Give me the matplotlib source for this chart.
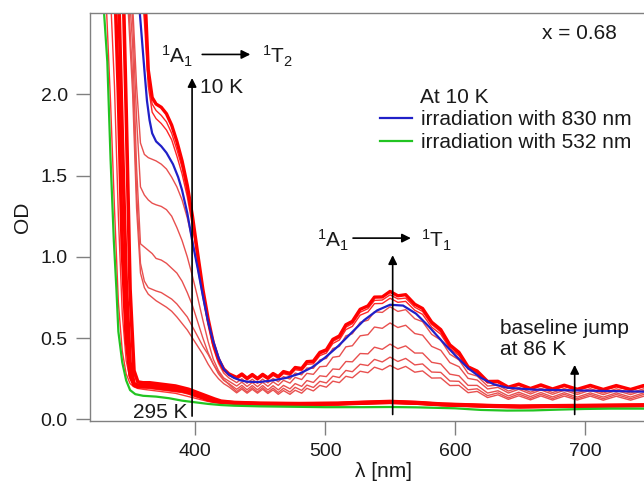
import matplotlib
matplotlib.use('Agg')
import matplotlib.pyplot as plt

plt.rcParams['font.family'] = 'Liberation Sans'
plt.rcParams['mathtext.fontset'] = 'custom'
plt.rcParams['mathtext.rm'] = 'Liberation Sans'
plt.rcParams['mathtext.it'] = 'Liberation Sans:italic'
plt.rcParams['mathtext.bf'] = 'Liberation Sans:bold'
plt.rcParams['mathtext.default'] = 'regular'

# ---- wavelength grids (nm) ----
# UV edge / 1A1->1T2 shoulder part and the visible part (fringe maxima/minima)
wl_uv = [340, 344, 348, 352, 355, 358, 361, 364, 367, 370, 374, 378, 382, 386,
         390, 394, 398, 402, 406, 410, 414, 418, 422, 426]
wl_vis = [432, 436, 440, 444, 448, 452, 456, 460, 464, 468, 473, 477, 482, 486,
          491, 496, 501, 506, 511, 516, 521, 527, 533, 538, 544, 550, 556, 562,
          569, 575, 582, 589, 596, 603, 610, 617, 625, 633, 641, 649, 658, 666,
          675, 684, 694, 704, 714, 724, 735, 745, 750]
wl_red = wl_uv + wl_vis

# low temperature spectra (high-spin fraction small)
od_10K = [3.0, 3.0, 3.0, 3.0, 3.0, 2.95, 2.70, 2.15, 1.98, 1.94, 1.92, 1.88, 1.81, 1.71,
          1.59, 1.44, 1.25, 1.02, 0.80, 0.62, 0.47, 0.37, 0.31, 0.28,
          0.258, 0.279, 0.253, 0.276, 0.252, 0.277, 0.255, 0.282, 0.263, 0.294, 0.283,
          0.319, 0.313, 0.355, 0.358, 0.412, 0.428, 0.492, 0.513, 0.582, 0.603, 0.677,
          0.698, 0.752, 0.753, 0.787, 0.760, 0.767, 0.708, 0.682, 0.598, 0.552, 0.458,
          0.412, 0.323, 0.297, 0.233, 0.234, 0.198, 0.217, 0.190, 0.212, 0.187, 0.210,
          0.185, 0.209, 0.184, 0.208, 0.184, 0.208, 0.196]
od_lowT_2 = [3.0, 3.0, 3.0, 3.0, 3.0, 2.85, 2.55, 2.10, 1.94, 1.90, 1.87, 1.83, 1.76, 1.66,
             1.55, 1.40, 1.22, 1.00, 0.79, 0.61, 0.46, 0.365, 0.305, 0.275,
             0.254, 0.273, 0.249, 0.270, 0.248, 0.271, 0.251, 0.276, 0.259, 0.288, 0.278,
             0.312, 0.307, 0.347, 0.351, 0.402, 0.419, 0.480, 0.501, 0.567, 0.589, 0.659,
             0.681, 0.732, 0.734, 0.766, 0.741, 0.746, 0.690, 0.664, 0.584, 0.538, 0.448,
             0.402, 0.317, 0.290, 0.230, 0.229, 0.196, 0.213, 0.188, 0.208, 0.185, 0.206,
             0.183, 0.205, 0.182, 0.204, 0.182, 0.204, 0.193]
od_lowT_3 = [3.0, 3.0, 3.0, 3.0, 2.95, 2.75, 2.45, 2.05, 1.89, 1.85, 1.82, 1.78, 1.72, 1.62,
             1.51, 1.37, 1.19, 0.98, 0.78, 0.60, 0.455, 0.36, 0.30, 0.27,
             0.248, 0.267, 0.243, 0.264, 0.242, 0.265, 0.245, 0.270, 0.253, 0.281, 0.271,
             0.305, 0.300, 0.338, 0.342, 0.392, 0.408, 0.467, 0.488, 0.552, 0.572, 0.641,
             0.661, 0.712, 0.713, 0.745, 0.720, 0.726, 0.671, 0.646, 0.567, 0.524, 0.436,
             0.392, 0.309, 0.284, 0.224, 0.225, 0.191, 0.209, 0.184, 0.204, 0.181, 0.202,
             0.179, 0.201, 0.178, 0.200, 0.178, 0.200, 0.189]

# intermediate temperatures (during the transition)
od_mid_1 = [3.0, 3.0, 3.0, 2.55, 2.05, 1.70, 1.63, 1.61, 1.60, 1.59, 1.57, 1.54, 1.49, 1.43,
            1.35, 1.24, 1.10, 0.93, 0.75, 0.58, 0.44, 0.345, 0.285, 0.255,
            0.226, 0.250, 0.222, 0.247, 0.221, 0.248, 0.224, 0.252, 0.231, 0.263, 0.248,
            0.285, 0.274, 0.316, 0.314, 0.366, 0.375, 0.436, 0.449, 0.514, 0.527, 0.597,
            0.610, 0.662, 0.658, 0.693, 0.664, 0.675, 0.619, 0.601, 0.523, 0.488, 0.401,
            0.366, 0.283, 0.266, 0.205, 0.211, 0.174, 0.196, 0.167, 0.191, 0.165, 0.190,
            0.163, 0.189, 0.162, 0.188, 0.162, 0.188, 0.175]
od_mid_2 = [3.0, 3.0, 2.9, 2.45, 1.85, 1.43, 1.38, 1.35, 1.33, 1.32, 1.31, 1.29, 1.25, 1.18,
            1.10, 1.00, 0.88, 0.75, 0.61, 0.48, 0.37, 0.30, 0.255, 0.235,
            0.205, 0.229, 0.202, 0.227, 0.201, 0.228, 0.203, 0.231, 0.209, 0.240, 0.223,
            0.258, 0.245, 0.283, 0.277, 0.324, 0.327, 0.382, 0.388, 0.446, 0.453, 0.514,
            0.521, 0.568, 0.560, 0.593, 0.565, 0.579, 0.528, 0.518, 0.449, 0.425, 0.349,
            0.324, 0.252, 0.242, 0.187, 0.197, 0.162, 0.185, 0.156, 0.181, 0.154, 0.179,
            0.153, 0.179, 0.152, 0.178, 0.152, 0.178, 0.165]
od_mid_3 = [3.0, 3.0, 2.8, 2.3, 1.55, 1.08, 1.06, 1.04, 1.02, 0.99, 0.98, 0.96, 0.93, 0.90,
            0.85, 0.78, 0.70, 0.60, 0.50, 0.41, 0.34, 0.28, 0.24, 0.22,
            0.185, 0.209, 0.182, 0.208, 0.182, 0.208, 0.181, 0.207, 0.181, 0.209, 0.188,
            0.220, 0.203, 0.239, 0.227, 0.268, 0.263, 0.310, 0.307, 0.356, 0.354, 0.405,
            0.403, 0.444, 0.431, 0.463, 0.435, 0.452, 0.408, 0.408, 0.351, 0.341, 0.278,
            0.268, 0.209, 0.209, 0.162, 0.176, 0.144, 0.167, 0.140, 0.165, 0.138, 0.164,
            0.137, 0.163, 0.137, 0.163, 0.137, 0.163, 0.150]
od_mid_4 = [3.0, 3.0, 2.7, 2.1, 1.4, 0.96, 0.85, 0.81, 0.80, 0.79, 0.78, 0.76, 0.74, 0.71,
            0.67, 0.63, 0.57, 0.51, 0.45, 0.40, 0.34, 0.29, 0.245, 0.215,
            0.171, 0.196, 0.169, 0.195, 0.169, 0.195, 0.167, 0.192, 0.165, 0.191, 0.168,
            0.197, 0.178, 0.211, 0.196, 0.234, 0.224, 0.266, 0.257, 0.301, 0.293, 0.339,
            0.331, 0.369, 0.353, 0.383, 0.356, 0.375, 0.335, 0.341, 0.291, 0.289, 0.236,
            0.234, 0.182, 0.188, 0.146, 0.163, 0.132, 0.156, 0.129, 0.154, 0.128, 0.154,
            0.127, 0.153, 0.127, 0.153, 0.127, 0.153, 0.140]
od_mid_5 = [3.0, 3.0, 2.6, 2.0, 1.3, 0.90, 0.81, 0.77, 0.75, 0.73, 0.71, 0.69, 0.665, 0.63,
            0.59, 0.55, 0.50, 0.45, 0.40, 0.34, 0.29, 0.25, 0.22, 0.20,
            0.163, 0.186, 0.161, 0.185, 0.161, 0.185, 0.159, 0.181, 0.154, 0.177, 0.154,
            0.179, 0.161, 0.191, 0.175, 0.209, 0.198, 0.235, 0.226, 0.265, 0.256, 0.296,
            0.287, 0.321, 0.305, 0.332, 0.307, 0.326, 0.290, 0.298, 0.254, 0.255, 0.208,
            0.209, 0.164, 0.172, 0.134, 0.151, 0.123, 0.145, 0.120, 0.144, 0.119, 0.143,
            0.119, 0.143, 0.118, 0.142, 0.118, 0.142, 0.130]

# high temperature spectra (high-spin), up to 295 K
wl_hs = [326, 329, 332, 335, 338, 341, 344, 347, 350, 353, 356, 360, 365, 370, 375,
         380, 385, 390, 395, 400, 405, 410, 415, 420, 430, 450, 480, 510, 530, 550,
         570, 590, 610, 630, 650, 680, 710, 750]
od_hs_1 = [3.0, 2.9, 2.5, 1.95, 1.30, 0.72, 0.42, 0.28, 0.22, 0.20, 0.19, 0.185, 0.18,
           0.175, 0.17, 0.165, 0.16, 0.15, 0.14, 0.13, 0.12, 0.11, 0.105, 0.10, 0.095,
           0.09, 0.088, 0.09, 0.095, 0.098, 0.093, 0.085, 0.08, 0.075, 0.072, 0.075,
           0.078, 0.08]
od_hs_2 = [3.0, 3.0, 2.9, 2.6, 2.05, 1.25, 0.65, 0.36, 0.25, 0.21, 0.20, 0.195, 0.19,
           0.185, 0.18, 0.175, 0.17, 0.165, 0.155, 0.14, 0.13, 0.12, 0.11, 0.105, 0.098,
           0.093, 0.09, 0.092, 0.097, 0.10, 0.095, 0.087, 0.082, 0.077, 0.074, 0.077,
           0.08, 0.082]
od_hs_3 = [3.0, 3.0, 3.0, 3.0, 2.75, 2.0, 1.05, 0.50, 0.27, 0.21, 0.20, 0.20, 0.20,
           0.195, 0.19, 0.185, 0.18, 0.175, 0.165, 0.15, 0.135, 0.12, 0.11, 0.105, 0.10,
           0.095, 0.093, 0.095, 0.10, 0.105, 0.10, 0.09, 0.085, 0.08, 0.077, 0.08,
           0.082, 0.085]
od_hs_4 = [3.0, 3.0, 3.0, 3.0, 3.0, 2.7, 1.75, 0.85, 0.35, 0.22, 0.21, 0.21, 0.21,
           0.205, 0.20, 0.195, 0.19, 0.185, 0.175, 0.16, 0.145, 0.13, 0.115, 0.108,
           0.102, 0.097, 0.095, 0.097, 0.103, 0.108, 0.102, 0.092, 0.087, 0.082, 0.079,
           0.082, 0.084, 0.087]
od_hs_5 = [3.0, 3.0, 3.0, 3.0, 3.0, 3.0, 2.9, 1.9, 0.80, 0.30, 0.23, 0.225, 0.225,
           0.22, 0.215, 0.21, 0.205, 0.195, 0.185, 0.17, 0.155, 0.14, 0.125, 0.112,
           0.104, 0.099, 0.097, 0.099, 0.105, 0.11, 0.104, 0.094, 0.089, 0.084, 0.081,
           0.084, 0.086, 0.089]

# 10 K after irradiation with 830 nm (blue)
wl_830 = [356, 357, 359, 361, 363, 365, 367, 370, 374, 378, 383, 387, 390, 394, 398,
          402, 406, 410, 414, 418, 422, 426, 430, 435, 440, 445, 450, 460, 470, 480,
          490, 500, 510, 520, 530, 540, 550, 560, 570, 580, 590, 600, 610, 620, 630,
          640, 660, 700, 750]
od_830 = [2.75, 2.55, 2.35, 2.15, 1.96, 1.84, 1.76, 1.71, 1.68, 1.64, 1.57, 1.49, 1.41,
          1.27, 1.09, 0.93, 0.76, 0.60, 0.48, 0.38, 0.31, 0.275, 0.255, 0.24, 0.232,
          0.23, 0.23, 0.24, 0.255, 0.28, 0.32, 0.38, 0.45, 0.53, 0.61, 0.67, 0.705,
          0.70, 0.65, 0.57, 0.48, 0.395, 0.315, 0.255, 0.215, 0.195, 0.183, 0.177, 0.17]

# 10 K after irradiation with 532 nm (green)
wl_532 = [326, 328, 330, 332.5, 335, 337.5, 339.5, 341, 344, 347, 350, 354, 360, 370,
          380, 390, 400, 410, 420, 430, 450, 470, 500, 530, 550, 570, 600, 620, 640,
          660, 680, 700, 720, 750]
od_532 = [3.0, 2.75, 2.5, 2.2, 1.6, 1.1, 0.8, 0.54, 0.35, 0.24, 0.18, 0.155, 0.145,
          0.14, 0.13, 0.115, 0.105, 0.095, 0.088, 0.084, 0.08, 0.078, 0.075, 0.075,
          0.076, 0.074, 0.068, 0.058, 0.054, 0.055, 0.06, 0.064, 0.066, 0.066]

xticks = [400, 500, 600, 700]
yticks = [0.0, 0.5, 1.0, 1.5, 2.0]

RED = '#ff0000'
THIN = '#e8504f'
TXT = '#1a1a1a'
GREY = '#808080'

fig = plt.figure(figsize=(6.44, 4.83), dpi=100)
ax = fig.add_axes([0.1398, 0.1284, 0.91, 0.8447])

# high-spin bundle
ax.plot(wl_hs, od_hs_1, color=RED, lw=1.0, alpha=0.8)
ax.plot(wl_hs, od_hs_2, color=RED, lw=1.0, alpha=0.8)
for od in (od_hs_3, od_hs_4, od_hs_5):
    ax.plot(wl_hs, od, color=RED, lw=2.6)

# transition curves
for od in (od_mid_5, od_mid_4, od_mid_3, od_mid_2, od_mid_1):
    ax.plot(wl_red, od, color=THIN, lw=1.0)

ax.plot(wl_red, od_lowT_3, color=RED, lw=1.0, alpha=0.85)
ax.plot(wl_red, od_lowT_2, color=RED, lw=1.0, alpha=0.85)
ax.plot(wl_red, od_10K, color=RED, lw=2.4)

l532, = ax.plot(wl_532, od_532, color='#22c422', lw=1.6)
l830, = ax.plot(wl_830, od_830, color='#2020c8', lw=1.6)

ax.set_xlim(319.2, 770)
ax.set_ylim(-0.01, 2.5)
ax.set_xticks(xticks)
ax.set_yticks(yticks)
ax.set_yticklabels(['%.1f' % v for v in yticks])
for s in ax.spines.values():
    s.set_color(GREY)
    s.set_linewidth(1.0)
ax.tick_params(direction='out', length=10, width=1, color=GREY,
               labelsize=14, labelcolor=TXT, pad=6)
ax.set_xlabel('λ [nm]', fontsize=15, color=TXT, labelpad=1)
ax.set_ylabel('OD', fontsize=15, color=TXT, labelpad=6)

arrow = dict(arrowstyle='-|>', color='k', lw=1.2, mutation_scale=13,
             shrinkA=0, shrinkB=0)

# 295 K -> 10 K
ax.annotate('', xy=(397.7, 2.10), xytext=(397.7, 0.02), arrowprops=arrow)
ax.text(403.5, 2.04, '10 K', fontsize=15, color=TXT, ha='left', va='center')
ax.text(394.5, 0.045, '295 K', fontsize=15, color=TXT, ha='right', va='center')

# 1A1 -> 1T2
ax.text(386, 2.235, r'$^1A_1$', fontsize=15, color=TXT, ha='center', va='center')
ax.annotate('', xy=(442.5, 2.245), xytext=(405.5, 2.245), arrowprops=arrow)
ax.text(463.5, 2.235, r'$^1T_2$', fontsize=15, color=TXT, ha='center', va='center')

# 1A1 -> 1T1
ax.annotate('', xy=(552, 1.01), xytext=(552, 0.03), arrowprops=arrow)
ax.text(506, 1.10, r'$^1A_1$', fontsize=15, color=TXT, ha='center', va='center')
ax.annotate('', xy=(566, 1.115), xytext=(521.5, 1.115), arrowprops=arrow)
ax.text(586, 1.10, r'$^1T_1$', fontsize=15, color=TXT, ha='center', va='center')

# baseline jump
ax.annotate('', xy=(692, 0.335), xytext=(692, 0.03), arrowprops=arrow)
ax.text(634.5, 0.562, 'baseline jump', fontsize=15, color=TXT, ha='left', va='center')
ax.text(634.5, 0.427, 'at 86 K', fontsize=15, color=TXT, ha='left', va='center')

ax.text(696, 2.375, 'x = 0.68', fontsize=15, color=TXT, ha='center', va='center')

# legend
ax.text(573, 1.98, 'At 10 K', fontsize=15, color=TXT, ha='left', va='center')
ax.legend([l830, l532], ['irradiation with 830 nm', 'irradiation with 532 nm'],
          loc='upper left', bbox_to_anchor=(380 / 644, 1 - 110 / 483),
          bbox_transform=fig.transFigure, frameon=False, fontsize=15,
          handlelength=1.55, handletextpad=0.4, labelspacing=0.2,
          borderpad=0, borderaxespad=0, labelcolor=TXT)

fig.savefig('out.png', dpi=100)
